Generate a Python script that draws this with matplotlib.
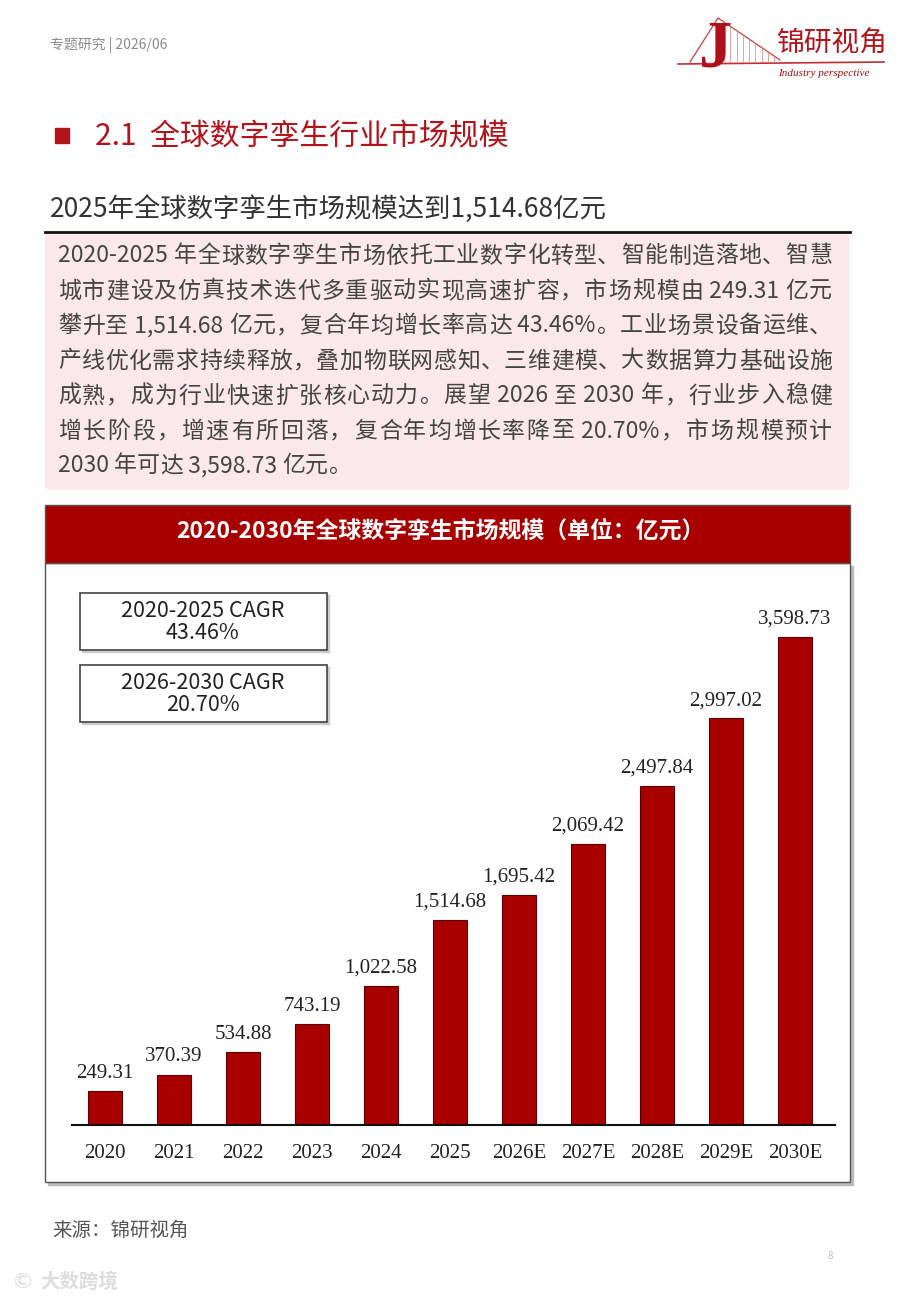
import re
import matplotlib
matplotlib.use("Agg")
import matplotlib.pyplot as plt
from matplotlib.patches import Rectangle
import numpy as np

plt.rcParams["font.family"] = ["Noto Sans CJK SC", "DejaVu Sans"]

# data
years = ["2020", "2021", "2022", "2023", "2024", "2025",
         "2026E", "2027E", "2028E", "2029E", "2030E"]
market_size = [249.31, 370.39, 534.88, 743.19, 1022.58, 1514.68,
               1695.42, 2069.42, 2497.84, 2997.02, 3598.73]
cagr_labels = ["2020-2025 CAGR", "2026-2030 CAGR"]
cagr_values = ["43.46%", "20.70%"]

paragraph = [
    "2020-2025 年全球数字孪生市场依托工业数字化转型、智能制造落地、智慧",
    "城市建设及仿真技术迭代多重驱动实现高速扩容，市场规模由 249.31 亿元",
    "攀升至 1,514.68 亿元，复合年均增长率高达 43.46%。工业场景设备运维、",
    "产线优化需求持续释放，叠加物联网感知、三维建模、大数据算力基础设施",
    "成熟，成为行业快速扩张核心动力。展望 2026 至 2030 年，行业步入稳健",
    "增长阶段，增速有所回落，复合年均增长率降至 20.70%，市场规模预计",
    "2030 年可达 3,598.73 亿元。",
]

RED = "#A80000"
TITLE_RED = "#B3131B"

fig = plt.figure(figsize=(9, 13), dpi=100)
bg = fig.add_axes([0, 0, 1, 1])
bg.set_xlim(0, 900)
bg.set_ylim(1300, 0)
bg.axis("off")

# header
bg.text(50, 45, "专题研究 | 2026/06", fontsize=10, color="#8a8a8a", va="center")

# logo (simplified)
bg.plot([678, 884], [64, 62], color="#C03030", lw=1.2)
bg.plot([690, 718, 780], [62, 18, 60], color="#C84040", lw=0.9)
for dx in np.linspace(6, 56, 9):
    bg.plot([718 + dx, 718 + dx], [18 + dx * 0.68, 62], color="#D88080", lw=0.5)
bg.text(716, 50, "J", fontsize=48, color="#B0101A", family="Liberation Serif",
        va="center", ha="center", weight="bold")
bg.text(776, 44, "锦研视角", fontsize=20, color="#B3131B", va="center")
bg.text(778, 73, "Industry perspective", fontsize=8, color="#A01010",
        family="Liberation Serif", style="italic", va="center")

# section title
bg.add_patch(Rectangle((55, 128), 14, 15, color=TITLE_RED))
bg.text(95, 137, "2.1  全球数字孪生行业市场规模", fontsize=21.5, color=TITLE_RED,
        weight="medium", va="center")

# sub title
bg.text(50, 209, "2025年全球数字孪生市场规模达到1,514.68亿元", fontsize=19,
        color="#333333", weight="medium", va="center")
bg.plot([45, 850], [232, 232], color="#111111", lw=2)
bg.add_patch(Rectangle((45, 234), 803, 254, color="#FAE8EA", zorder=0))

# justified paragraph
renderer = fig.canvas.get_renderer()
x_left, x_right = 58, 832
fs = 16.5
for i, line in enumerate(paragraph):
    y = 256 + i * 35
    tokens = re.findall(r"[ -~]+|.", line)
    widths = []
    for tk in tokens:
        t = bg.text(0, 0, tk, fontsize=fs)
        widths.append(t.get_window_extent(renderer).width)
        t.remove()
    gap = 0
    if i < len(paragraph) - 1 and len(tokens) > 1:
        gap = (x_right - x_left - sum(widths)) / (len(tokens) - 1)
    x = x_left
    for tk, w in zip(tokens, widths):
        bg.text(x, y, tk, fontsize=fs, color="#444444", va="center", ha="left")
        x += w + gap

# chart frame
bg.add_patch(Rectangle((48, 566), 805, 619, color="#BBBBBB", zorder=1))
bg.add_patch(Rectangle((45, 563), 805, 619, facecolor="white",
                       edgecolor="#555555", lw=1, zorder=2))
bg.add_patch(Rectangle((45, 505), 805, 58, facecolor=RED,
                       edgecolor="#555555", lw=1, zorder=3))
bg.text(440, 531, "2020-2030年全球数字孪生市场规模（单位：亿元）", fontsize=16.5,
        color="white", weight="bold", ha="center", va="center", zorder=4)

# CAGR boxes
for i, (lab, val) in enumerate(zip(cagr_labels, cagr_values)):
    top = 593 + i * 72
    bg.add_patch(Rectangle((82, top + 2), 247, 57, color="#CCCCCC", zorder=3))
    bg.add_patch(Rectangle((80, top), 247, 57, facecolor="white",
                           edgecolor="#444444", lw=1.2, zorder=4))
    bg.text(203, top + 29, lab + "\n" + val, fontsize=15.5, color="#222222",
            ha="center", va="center", linespacing=1.0, zorder=5)

# bar chart
ax = fig.add_axes([72 / 900, (1300 - 1125) / 1300, (835 - 72) / 900, (1125 - 590) / 1300])
ax.patch.set_alpha(0)
x = np.arange(len(years))
bars = ax.bar(x, market_size, width=0.48, color=RED, edgecolor="#5a0000", linewidth=0.8)
ax.set_xlim(-0.478, len(years) - 1 + 0.58)
ax.set_ylim(0, 535 / 0.13565)
for b, v in zip(bars, market_size):
    ax.annotate(f"{v:,.2f}", (b.get_x() + b.get_width() / 2, v),
                xytext=(0, 6), textcoords="offset points", ha="center", va="bottom",
                fontsize=15, family="Liberation Serif", color="#222222")
ax.set_xticks(x)
ax.set_xticklabels(years, family="Liberation Serif", fontsize=15, color="#222222")
ax.tick_params(axis="x", length=0, pad=14)
ax.set_yticks([])
for s in ["top", "right", "left"]:
    ax.spines[s].set_visible(False)
ax.spines["bottom"].set_linewidth(1.5)
ax.spines["bottom"].set_color("#111111")

# footer
bg.text(52, 1230, "来源：锦研视角", fontsize=14, color="#555555", va="center")
bg.text(830, 1256, "8", fontsize=7, color="#BBBBBB", va="center", ha="center")
bg.text(40, 1282, "大数跨境", fontsize=14, color="#DDDDDD", va="center", weight="bold")
bg.text(12, 1282, "©", fontsize=16, color="#DDDDDD", va="center", family="DejaVu Sans")

fig.savefig("out.png", dpi=100)
